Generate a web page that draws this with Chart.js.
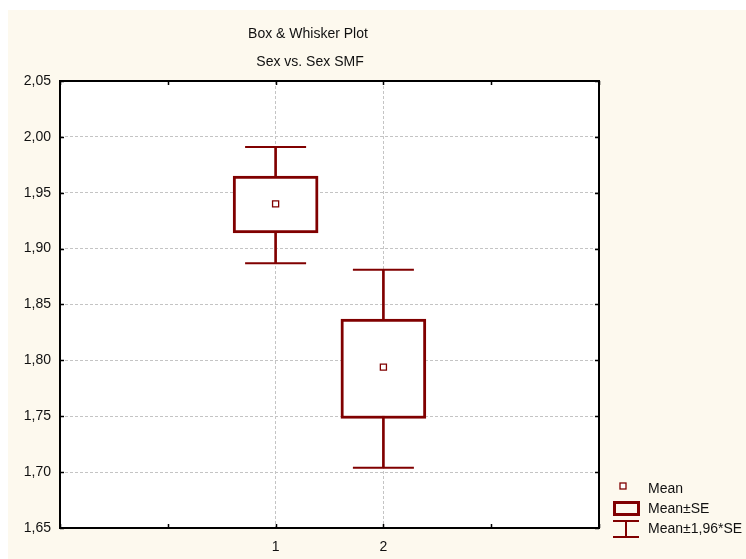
<!DOCTYPE html>
<html>
<head>
<meta charset="utf-8">
<script src="https://cdn.jsdelivr.net/npm/chart.js@4.4.1/dist/chart.umd.min.js"></script>
<style>
  html, body { margin: 0; padding: 0; background: #fff; }
  canvas { display: block; }
</style>
</head>
<body>
<canvas id="chart" width="746" height="559"></canvas>
<script>
// data
const xLabels = ['', '', '1', '2', '', ''];
const means = [null, null, 1.940, 1.794, null, null];
const seLow = [null, null, 1.914, 1.748, null, null];
const seHigh = [null, null, 1.965, 1.837, null, null];
const ciLow = [null, null, 1.887, 1.704, null, null];
const ciHigh = [null, null, 1.991, 1.881, null, null];
const yMin = 1.65, yMax = 2.05, yStep = 0.05;

const titleLines = ['Box & Whisker Plot', 'Sex vs. Sex SMF'];
const legendLabels = ['Mean', 'Mean\u00B1SE', 'Mean\u00B11,96*SE'];

const RED = '#800000';
const CREAM = '#fdf9ee';
const FONT = "'Liberation Sans', Arial, sans-serif";

const boxes = seLow.map((v, i) => v === null ? null : [v, seHigh[i]]);
const whiskers = ciLow.map((v, i) => v === null ? null : [v, ciHigh[i]]);

// panel background, frame, inward ticks, titles and legend
const decor = {
    id: 'decor',
    beforeDraw(chart) {
        const ctx = chart.ctx, a = chart.chartArea;
        ctx.save();
        ctx.fillStyle = '#fff';
        ctx.fillRect(0, 0, chart.width, chart.height);
        ctx.fillStyle = CREAM;
        ctx.fillRect(8, 10, chart.width - 8, chart.height - 10);
        ctx.fillStyle = '#fff';
        ctx.fillRect(a.left, a.top, a.right - a.left, a.bottom - a.top);
        ctx.restore();
    },
    afterDraw(chart) {
        const ctx = chart.ctx, a = chart.chartArea;
        const xs = chart.scales.x, ys = chart.scales.y;
        ctx.save();
        ctx.strokeStyle = '#000';
        ctx.lineWidth = 2;
        ctx.strokeRect(a.left, a.top, a.right - a.left, a.bottom - a.top);

        // inward ticks
        ctx.lineWidth = 1.5;
        ctx.beginPath();
        xs.ticks.forEach((t, i) => {
            const px = Math.round(xs.getPixelForTick(i)) + 0.5;
            ctx.moveTo(px, a.bottom); ctx.lineTo(px, a.bottom - 4);
            ctx.moveTo(px, a.top); ctx.lineTo(px, a.top + 4);
        });
        ys.ticks.forEach((t, i) => {
            const py = Math.round(ys.getPixelForTick(i)) + 0.5;
            ctx.moveTo(a.left, py); ctx.lineTo(a.left + 4, py);
            ctx.moveTo(a.right, py); ctx.lineTo(a.right - 4, py);
        });
        ctx.stroke();

        // titles
        ctx.fillStyle = '#111';
        ctx.font = '14px ' + FONT;
        ctx.textAlign = 'center';
        ctx.textBaseline = 'middle';
        ctx.fillText(titleLines[0], 308, 34);
        ctx.fillText(titleLines[1], 310, 62);

        // legend
        ctx.strokeStyle = RED;
        ctx.fillStyle = '#fff';
        ctx.lineWidth = 1.3;
        ctx.fillRect(620, 483, 6, 6);
        ctx.strokeRect(620, 483, 6, 6);

        ctx.lineWidth = 3;
        ctx.strokeRect(614.5, 502.5, 24, 12);

        ctx.lineWidth = 2;
        ctx.beginPath();
        ctx.moveTo(613, 521); ctx.lineTo(639, 521);
        ctx.moveTo(613, 537); ctx.lineTo(639, 537);
        ctx.moveTo(626, 521); ctx.lineTo(626, 537);
        ctx.stroke();

        ctx.fillStyle = '#111';
        ctx.textAlign = 'left';
        ctx.fillText(legendLabels[0], 648, 489);
        ctx.fillText(legendLabels[1], 648, 509);
        ctx.fillText(legendLabels[2], 648, 529);
        ctx.restore();
    }
};

new Chart(document.getElementById('chart'), {
    type: 'bar',
    data: {
        labels: xLabels,
        datasets: [
            {
                // mean marker
                type: 'line', data: means, showLine: false,
                pointStyle: 'rect', pointRadius: 4.3,
                pointBackgroundColor: '#fff', pointBorderColor: RED, pointBorderWidth: 1.3,
                order: 1
            },
            {
                // mean +- SE box
                data: boxes, grouped: false, barThickness: 85,
                backgroundColor: '#fff', borderColor: RED, borderWidth: 3,
                borderSkipped: false, order: 2
            },
            {
                // caps of mean +- 1.96*SE
                type: 'line', data: ciHigh, showLine: false,
                pointStyle: 'line', pointRadius: 30.5,
                pointBorderColor: RED, pointBorderWidth: 2, order: 3
            },
            {
                type: 'line', data: ciLow, showLine: false,
                pointStyle: 'line', pointRadius: 30.5,
                pointBorderColor: RED, pointBorderWidth: 2, order: 3
            },
            {
                // whisker stem
                data: whiskers, grouped: false, barThickness: 2,
                backgroundColor: RED, borderWidth: 0, order: 4
            }
        ]
    },
    options: {
        responsive: false,
        animation: false,
        events: [],
        layout: { autoPadding: false, padding: { top: 81, left: 8, right: 147, bottom: 0 } },
        plugins: { legend: { display: false }, tooltip: { enabled: false } },
        scales: {
            x: {
                offset: false,
                afterFit: s => { s.height = 31; },
                grid: {
                    offset: false,
                    drawTicks: false,
                    color: c => (c.index === 2 || c.index === 3) ? '#c4c4c4' : 'rgba(0,0,0,0)',
                    lineWidth: 1
                },
                border: { display: false, dash: [3, 2] },
                ticks: {
                    autoSkip: false, maxRotation: 0, padding: 11,
                    color: '#111', font: { family: FONT, size: 14 }
                }
            },
            y: {
                min: yMin, max: yMax,
                afterFit: s => { s.width = 52; },
                grid: {
                    drawTicks: false,
                    color: c => (c.index === 0 || c.index === 8) ? 'rgba(0,0,0,0)' : '#c4c4c4',
                    lineWidth: 1
                },
                border: { display: false, dash: [3, 2] },
                ticks: {
                    stepSize: yStep, padding: 9,
                    color: '#111', font: { family: FONT, size: 14 },
                    callback: v => v.toFixed(2).replace('.', ',')
                }
            }
        }
    },
    plugins: [decor]
});
</script>
</body>
</html>
